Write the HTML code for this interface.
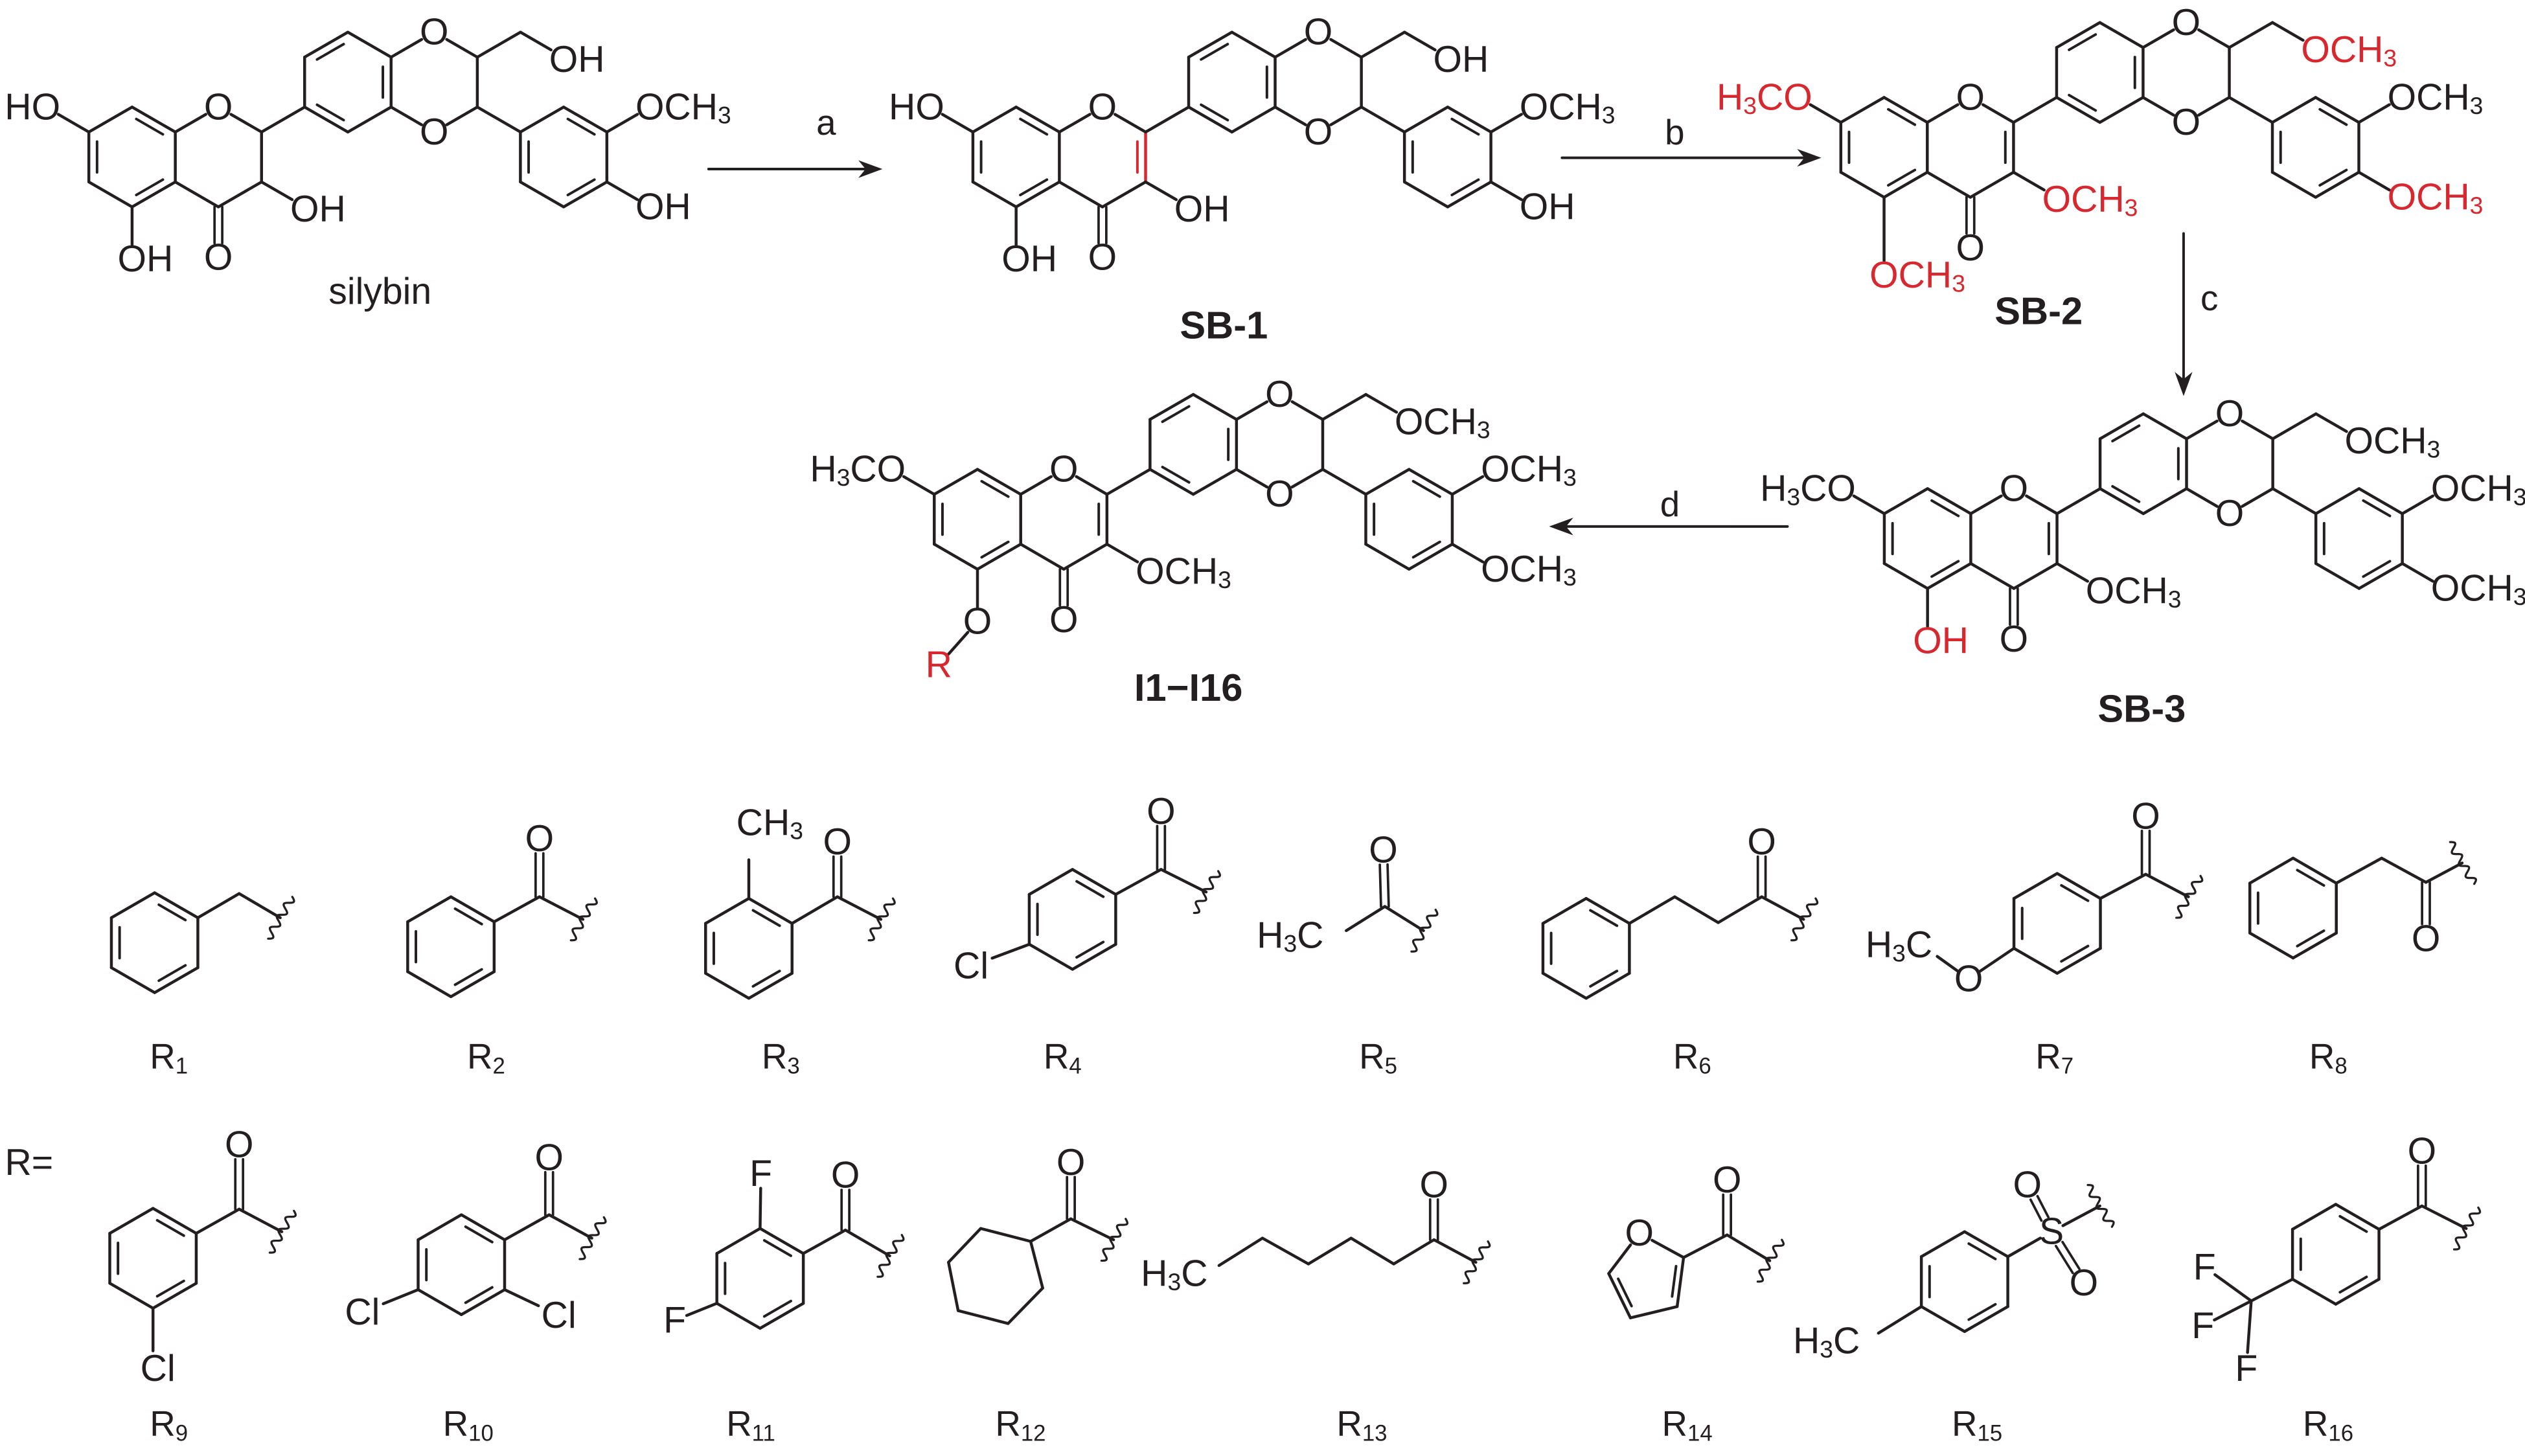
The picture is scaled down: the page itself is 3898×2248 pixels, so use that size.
<!DOCTYPE html>
<html><head><meta charset="utf-8">
<style>
html,body{margin:0;padding:0;background:#fff;}
svg{display:block}
text{font-family:"Liberation Sans",Arial,sans-serif;font-size:23px;dominant-baseline:central;fill:#231f20}
text.r,tspan.r{fill:#d7282f}
.b{font-weight:bold;font-size:24px}
.lab{font-size:22px}
</style></head><body>
<svg id="s" xmlns="http://www.w3.org/2000/svg" width="3898" height="2248" viewBox="0 0 1568 904.3">
<rect width="1568" height="904.3" fill="#fff"/>
<g id="bonds" stroke="#231f20" stroke-width="1.8" fill="none" stroke-linecap="round" stroke-linejoin="round"></g>

<!-- silybin -->
<g transform="translate(0,0)">
<text x="37.4" y="66.5" text-anchor="end">HO</text>
<text x="135.6" y="66.5" text-anchor="middle">O</text>
<text x="135.6" y="160" text-anchor="middle">O</text>
<text x="73" y="161">OH</text>
<text x="180.2" y="130">OH</text>
<text x="269.6" y="20" text-anchor="middle">O</text>
<text x="269.6" y="82" text-anchor="middle">O</text>
<text x="341" y="37">OH</text>
<text x="394.6" y="66.5">OCH<tspan font-size="15" dy="5">3</tspan></text>
<text x="394.6" y="128.5">OH</text>
</g>
<text x="236" y="181" text-anchor="middle">silybin</text>

<!-- SB-1 -->
<g transform="translate(549,0)">
<text x="37.4" y="66.5" text-anchor="end">HO</text>
<text x="135.6" y="66.5" text-anchor="middle">O</text>
<text x="135.6" y="160" text-anchor="middle">O</text>
<text x="73" y="161">OH</text>
<text x="180.2" y="130">OH</text>
<text x="269.6" y="20" text-anchor="middle">O</text>
<text x="269.6" y="82" text-anchor="middle">O</text>
<text x="341" y="37">OH</text>
<text x="394.6" y="66.5">OCH<tspan font-size="15" dy="5">3</tspan></text>
<text x="394.6" y="128.5">OH</text>
</g>
<text class="b" x="760" y="202" text-anchor="middle">SB-1</text>

<!-- SB-2 -->
<g transform="translate(1088,-6)">
<text class="r" x="37.4" y="66.5" text-anchor="end">H<tspan font-size="15" dy="5">3</tspan><tspan dy="-5">CO</tspan></text>
<text x="135.6" y="66.5" text-anchor="middle">O</text>
<text x="135.6" y="160" text-anchor="middle">O</text>
<text class="r" x="73" y="177">OCH<tspan font-size="15" dy="5">3</tspan></text>
<text class="r" x="180.2" y="130">OCH<tspan font-size="15" dy="5">3</tspan></text>
<text x="269.6" y="20" text-anchor="middle">O</text>
<text x="269.6" y="82" text-anchor="middle">O</text>
<text class="r" x="341" y="37">OCH<tspan font-size="15" dy="5">3</tspan></text>
<text x="394.6" y="66.5">OCH<tspan font-size="15" dy="5">3</tspan></text>
<text class="r" x="394.6" y="128.5">OCH<tspan font-size="15" dy="5">3</tspan></text>
</g>
<text class="b" x="1266" y="193" text-anchor="middle">SB-2</text>

<!-- SB-3 -->
<g transform="translate(1115,237)">
<text x="37.4" y="66.5" text-anchor="end">H<tspan font-size="15" dy="5">3</tspan><tspan dy="-5">CO</tspan></text>
<text x="135.6" y="66.5" text-anchor="middle">O</text>
<text x="135.6" y="160" text-anchor="middle">O</text>
<text class="r" x="73" y="161">OH</text>
<text x="180.2" y="130">OCH<tspan font-size="15" dy="5">3</tspan></text>
<text x="269.6" y="20" text-anchor="middle">O</text>
<text x="269.6" y="82" text-anchor="middle">O</text>
<text x="341" y="37">OCH<tspan font-size="15" dy="5">3</tspan></text>
<text x="394.6" y="66.5">OCH<tspan font-size="15" dy="5">3</tspan></text>
<text x="394.6" y="128.5">OCH<tspan font-size="15" dy="5">3</tspan></text>
</g>
<text class="b" x="1330" y="440" text-anchor="middle">SB-3</text>

<!-- I1-I16 -->
<g transform="translate(525,225)">
<text x="37.4" y="66.5" text-anchor="end">H<tspan font-size="15" dy="5">3</tspan><tspan dy="-5">CO</tspan></text>
<text x="135.6" y="66.5" text-anchor="middle">O</text>
<text x="135.6" y="160" text-anchor="middle">O</text>
<text x="82" y="161" text-anchor="middle">O</text>
<text class="r" x="58" y="188" text-anchor="middle">R</text>
<text x="180.2" y="130">OCH<tspan font-size="15" dy="5">3</tspan></text>
<text x="269.6" y="20" text-anchor="middle">O</text>
<text x="269.6" y="82" text-anchor="middle">O</text>
<text x="341" y="37">OCH<tspan font-size="15" dy="5">3</tspan></text>
<text x="394.6" y="66.5">OCH<tspan font-size="15" dy="5">3</tspan></text>
<text x="394.6" y="128.5">OCH<tspan font-size="15" dy="5">3</tspan></text>
</g>
<text class="b" x="738" y="427" text-anchor="middle">I1−I16</text>

<!-- arrow labels -->
<text class="lab" x="513" y="76" text-anchor="middle">a</text>
<text class="lab" x="1040" y="82" text-anchor="middle">b</text>
<text class="lab" x="1372" y="185" text-anchor="middle">c</text>
<text class="lab" x="1037" y="313" text-anchor="middle">d</text>

<!-- R group atom labels -->
<text x="478" y="511" text-anchor="middle">CH<tspan font-size="15" dy="5">3</tspan></text>
<text x="335" y="521" text-anchor="middle">O</text>
<text x="520" y="523" text-anchor="middle">O</text>
<text x="721" y="504" text-anchor="middle">O</text>
<text x="603" y="600" text-anchor="middle">Cl</text>
<text x="859" y="528" text-anchor="middle">O</text>
<text x="822" y="581" text-anchor="end">H<tspan font-size="15" dy="5">3</tspan><tspan dy="-5">C</tspan></text>
<text x="1094" y="523" text-anchor="middle">O</text>
<text x="1332.5" y="507" text-anchor="middle">O</text>
<text x="1222.5" y="608" text-anchor="middle">O</text>
<text x="1200" y="587" text-anchor="end">H<tspan font-size="15" dy="5">3</tspan><tspan dy="-5">C</tspan></text>
<text x="1506.5" y="583" text-anchor="middle">O</text>

<text x="3" y="722">R=</text>
<text x="148.5" y="711" text-anchor="middle">O</text>
<text x="98" y="850" text-anchor="middle">Cl</text>
<text x="341" y="719" text-anchor="middle">O</text>
<text x="225" y="815" text-anchor="middle">Cl</text>
<text x="347" y="817" text-anchor="middle">Cl</text>
<text x="525" y="730" text-anchor="middle">O</text>
<text x="472.5" y="729" text-anchor="middle">F</text>
<text x="419" y="820" text-anchor="middle">F</text>
<text x="665" y="722" text-anchor="middle">O</text>
<text x="750" y="791" text-anchor="end">H<tspan font-size="15" dy="5">3</tspan><tspan dy="-5">C</tspan></text>
<text x="890.5" y="736" text-anchor="middle">O</text>
<text x="1018" y="766" text-anchor="middle">O</text>
<text x="1072.5" y="733" text-anchor="middle">O</text>
<text x="1155" y="833" text-anchor="end">H<tspan font-size="15" dy="5">3</tspan><tspan dy="-5">C</tspan></text>
<text x="1274" y="765" text-anchor="middle">S</text>
<text x="1259" y="736" text-anchor="middle">O</text>
<text x="1294" y="797" text-anchor="middle">O</text>
<text x="1504" y="715" text-anchor="middle">O</text>
<text x="1369" y="787" text-anchor="middle">F</text>
<text x="1368" y="823.5" text-anchor="middle">F</text>
<text x="1395" y="850" text-anchor="middle">F</text>

<!-- R labels -->
<text class="lab" x="93" y="656">R<tspan font-size="14" dy="6">1</tspan></text>
<text class="lab" x="290" y="656">R<tspan font-size="14" dy="6">2</tspan></text>
<text class="lab" x="473" y="656">R<tspan font-size="14" dy="6">3</tspan></text>
<text class="lab" x="648" y="656">R<tspan font-size="14" dy="6">4</tspan></text>
<text class="lab" x="844" y="656">R<tspan font-size="14" dy="6">5</tspan></text>
<text class="lab" x="1039" y="656">R<tspan font-size="14" dy="6">6</tspan></text>
<text class="lab" x="1264" y="656">R<tspan font-size="14" dy="6">7</tspan></text>
<text class="lab" x="1434" y="656">R<tspan font-size="14" dy="6">8</tspan></text>
<text class="lab" x="93" y="884">R<tspan font-size="14" dy="6">9</tspan></text>
<text class="lab" x="275" y="884">R<tspan font-size="14" dy="6">10</tspan></text>
<text class="lab" x="451" y="884">R<tspan font-size="14" dy="6">11</tspan></text>
<text class="lab" x="618" y="884">R<tspan font-size="14" dy="6">12</tspan></text>
<text class="lab" x="830" y="884">R<tspan font-size="14" dy="6">13</tspan></text>
<text class="lab" x="1032" y="884">R<tspan font-size="14" dy="6">14</tspan></text>
<text class="lab" x="1212" y="884">R<tspan font-size="14" dy="6">15</tspan></text>
<text class="lab" x="1430" y="884">R<tspan font-size="14" dy="6">16</tspan></text>
</svg>
<script>
const NS='http://www.w3.org/2000/svg';
const B=document.getElementById('bonds');
const RED='#d7282f';
function ln(a,b,t1,t2,c,w){t1=t1||0;t2=t2||0;const dx=b[0]-a[0],dy=b[1]-a[1],d=Math.hypot(dx,dy),ux=dx/d,uy=dy/d;
 const e=document.createElementNS(NS,'line');
 e.setAttribute('x1',a[0]+ux*t1);e.setAttribute('y1',a[1]+uy*t1);
 e.setAttribute('x2',b[0]-ux*t2);e.setAttribute('y2',b[1]-uy*t2);
 if(c)e.setAttribute('stroke',c); if(w)e.setAttribute('stroke-width',w); B.appendChild(e);}
function dbl(a,b,t1,t2,c){const dx=b[0]-a[0],dy=b[1]-a[1],d=Math.hypot(dx,dy),nx=-dy/d*2.4,ny=dx/d*2.4;
 ln([a[0]+nx,a[1]+ny],[b[0]+nx,b[1]+ny],t1,t2,c,1.5);ln([a[0]-nx,a[1]-ny],[b[0]-nx,b[1]-ny],t1,t2,c,1.5);}
function inr(a,b,cx,cy,c){const f=0.19;const A=[a[0]+(cx-a[0])*f,a[1]+(cy-a[1])*f],Bp=[b[0]+(cx-b[0])*f,b[1]+(cy-b[1])*f];
 const g=0.12;ln([A[0]+(Bp[0]-A[0])*g,A[1]+(Bp[1]-A[1])*g],[Bp[0]+(A[0]-Bp[0])*g,Bp[1]+(A[1]-Bp[1])*g],0,0,c,1.6);}
function hexp(cx,cy,L){return [[cx,cy-L],[cx+.866*L,cy-L/2],[cx+.866*L,cy+L/2],[cx,cy+L],[cx-.866*L,cy+L/2],[cx-.866*L,cy-L/2]];}
function ring(cx,cy,L,inn){const p=hexp(cx,cy,L);for(let i=0;i<6;i++)ln(p[i],p[(i+1)%6]);(inn||[]).forEach(i=>inr(p[i],p[(i+1)%6],cx,cy));return p;}
function wavy(p,ang){const a=ang*Math.PI/180,ux=Math.cos(a),uy=Math.sin(a),px=-uy,py=ux;let d='';const n=48,len=30;
 for(let i=0;i<=n;i++){const t=-len/2+len*i/n,s=2.4*Math.sin(i/n*Math.PI*2*3.5);
  d+=(i?'L':'M')+(p[0]+px*t+ux*s).toFixed(2)+' '+(p[1]+py*t+uy*s).toFixed(2);}
 const e=document.createElementNS(NS,'path');e.setAttribute('d',d);e.setAttribute('stroke-width','1.3');B.appendChild(e);}
function arrow(a,b){const dx=b[0]-a[0],dy=b[1]-a[1],d=Math.hypot(dx,dy),ux=dx/d,uy=dy/d;
 ln(a,[b[0]-ux*8,b[1]-uy*8],0,0,null,1.6);
 const px=-uy,py=ux,L=15,W=5.5;
 const pts=[[b[0],b[1]],[b[0]-ux*L+px*W,b[1]-uy*L+py*W],[b[0]-ux*L*0.7,b[1]-uy*L*0.7],[b[0]-ux*L-px*W,b[1]-uy*L-py*W]];
 const e=document.createElementNS(NS,'polygon');e.setAttribute('points',pts.map(q=>q.join(',')).join(' '));
 e.setAttribute('fill','#231f20');e.setAttribute('stroke','none');B.appendChild(e);}

function flav(ox,oy,o){
 const P=(x,y)=>[x+ox,y+oy];
 const A=ring(82+ox,97.5+oy,31,[0,2,4]);
 const O1=P(135.6,66.5),C2=P(162.4,82),C3=P(162.4,113),C4=P(135.6,128.5);
 ln(A[1],O1,0,9);ln(O1,C2,9,0);
 if(o.sil)ln(C2,C3);else{const c=o.red?RED:null;ln(C2,C3,0,0,c);inr(C2,C3,135.6+ox,97.5+oy,c);}
 ln(C3,C4);ln(C4,A[2]);
 dbl(C4,P(135.6,160),0,9);
 ln(A[5],P(28.4,66.5),0,9);
 ln(A[3],o.long5?P(82,177):P(82,161),0,9);
 ln(C3,P(189.2,128.5),0,9);
 ln(C2,P(189.2,66.5));
 const Bq=ring(216+ox,51+oy,31,[1,3,5]);
 const Ot=P(269.6,20),Ob=P(269.6,82),D1=P(296.4,35.5),D2=P(296.4,66.5);
 ln(Bq[1],Ot,0,9);ln(Ot,D1,9,0);ln(D1,D2);ln(D2,Ob,0,9);ln(Ob,Bq[2],9,0);
 ln(D1,P(323.2,20));ln(P(323.2,20),P(350,35.5),0,9);
 ln(D2,P(323.2,82));
 const D=ring(350+ox,97.5+oy,31,[0,2,4]);
 ln(D[1],P(403.6,66.5),0,9);ln(D[2],P(403.6,128.5),0,9);
 if(o.R)ln(P(82,161),P(58,188),9,9);
}
flav(0,0,{sil:1});
flav(549,0,{red:1});
flav(1088,-6,{long5:1});
flav(1115,237,{});
flav(525,225,{R:1});

arrow([440,105],[548,105]);
arrow([970,98],[1131,98]);
arrow([1356,145],[1356,246]);
arrow([1110,327],[962,327]);

const L=31;let p;
p=ring(96,585.5,L,[0,2,4]);ln(p[1],[148.5,555]);ln([148.5,555],[174,570]);wavy([174,570],30);
p=ring(280,588,L,[0,2,4]);ln(p[1],[335,557]);dbl([335,557],[335,521],0,9);ln([335,557],[362,571]);wavy([362,571],30);
p=ring(465,589,L,[0,2,4]);ln(p[0],[465,526],0,8);ln(p[1],[520,557]);dbl([520,557],[520,523],0,9);ln([520,557],[547,571]);wavy([547,571],30);
p=ring(666,571,L,[0,2,4]);ln(p[4],[603,600],0,14);ln(p[1],[721,540]);dbl([721,540],[721,504],0,9);ln([721,540],[749,554]);wavy([749,554],30);
ln([860,563],[836,578]);dbl([860,563],[859,528],0,9);ln([860,563],[884,578]);wavy([884,578],30);
p=ring(985,589,L,[0,2,4]);ln(p[1],[1040,557]);ln([1040,557],[1067,573]);ln([1067,573],[1094,557]);dbl([1094,557],[1094,523],0,9);ln([1094,557],[1120,571]);wavy([1120,571],30);
p=ring(1277.5,573.5,L,[0,2,4]);ln(p[4],[1222.5,608],0,8);ln([1222.5,608],[1203,594],8,0);ln(p[1],[1332.5,543]);dbl([1332.5,543],[1332.5,507],0,9);ln([1332.5,543],[1359,557]);wavy([1359,557],30);
p=ring(1424,564,L,[0,2,4]);ln(p[1],[1479,533]);ln([1479,533],[1506.5,548]);dbl([1506.5,548],[1506.5,583],0,9);ln([1506.5,548],[1529,536]);wavy([1529,536],-30);
p=ring(95,781.5,L,[0,2,4]);ln(p[1],[148.5,751]);dbl([148.5,751],[148.5,711],0,9);ln([148.5,751],[175,765]);wavy([175,765],30);ln(p[3],[95,850],0,11);
p=ring(286.5,785.5,L,[0,2,4]);ln(p[1],[341,754.5]);dbl([341,754.5],[341,719],0,9);ln([341,754.5],[367.5,769]);wavy([367.5,769],30);
ln(p[4],[225,815],0,14);ln(p[2],[347,817],0,14);
p=ring(472,794,L,[0,2,4]);ln(p[1],[525,764]);dbl([525,764],[525,730],0,9);ln([525,764],[552.5,780]);wavy([552.5,780],30);
ln(p[0],[472.5,729],0,9);ln(p[4],[419,820],0,8);
const cy=[[609,763],[640,771],[647.5,800],[626,822],[595,814],[589,784]];
for(let i=0;i<6;i++)ln(cy[i],cy[(i+1)%6]);
ln([640,771],[665,757]);dbl([665,757],[665,722],0,9);ln([665,757],[691.5,770]);wavy([691.5,770],30);
const ch=[[757,786],[784,769],[812.5,785],[839,769],[865.5,785],[890.5,770]];
for(let i=0;i<5;i++)ln(ch[i],ch[i+1]);
dbl([890.5,770],[890.5,736],0,9);ln([890.5,770],[916.5,784]);wavy([916.5,784],30);
const fO=[1018,766],f2=[1045.5,781],f3=[1041.5,811.5],f4=[1012.5,818.5],f5=[999,791];
ln(f5,fO,0,9);ln(fO,f2,9,0);ln(f2,f3);ln(f3,f4);ln(f4,f5);
inr(f2,f3,1023,794);inr(f4,f5,1023,794);
ln(f2,[1072.5,767]);dbl([1072.5,767],[1072.5,733],0,9);ln([1072.5,767],[1099,783]);wavy([1099,783],30);
p=ring(1220,796,L,[0,2,4]);ln(p[4],[1166.5,828]);ln(p[1],[1274,765],0,8);
dbl([1274,765],[1259,736],9,9);dbl([1274,765],[1294,797],9,9);ln([1274,765],[1304,749],8,0);wavy([1304,749],-30);
p=ring(1450.5,779,L,[0,2,4]);ln(p[1],[1504,749]);dbl([1504,749],[1504,715],0,9);ln([1504,749],[1531.5,763]);wavy([1531.5,763],30);
const cf=[1398,808];ln(p[4],cf);ln(cf,[1369,787],0,8);ln(cf,[1368,823.5],0,8);ln(cf,[1395,850],0,10);
</script>
</body></html>
